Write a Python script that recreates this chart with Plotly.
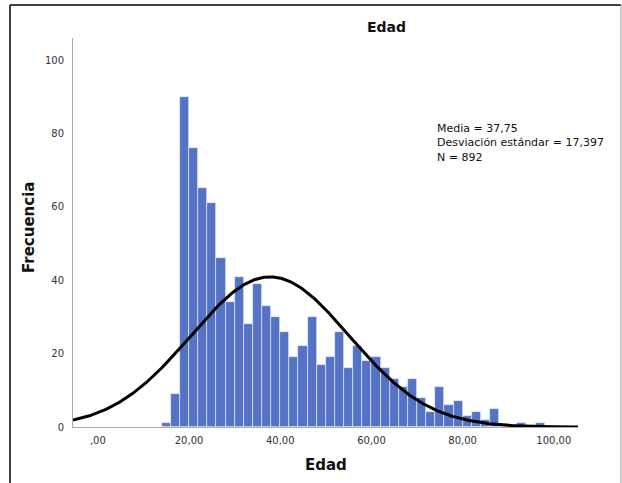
import numpy as np
import plotly.graph_objects as go

# ---- data ----
bin_start = [14, 16, 18, 20, 22, 24, 26, 28, 30, 32, 34, 36, 38, 40, 42, 44, 46, 48, 50,
             52, 54, 56, 58, 60, 62, 64, 66, 68, 70, 72, 74, 76, 78, 80, 82, 84, 86, 92, 96]
counts = [1, 9, 90, 76, 65, 61, 46, 34, 41, 28, 39, 33, 30, 26, 19, 22, 30, 17, 19,
          26, 16, 22, 18, 19, 16, 13, 11, 13, 8, 4, 11, 6, 7, 3, 4, 2, 5, 1, 1]
bin_width = 2
mean_age = 37.75
sd_age = 17.397
n_total = 892
x_ticks = [0, 20, 40, 60, 80, 100]
x_tick_text = [",00", "20,00", "40,00", "60,00", "80,00", "100,00"]
y_ticks = [0, 20, 40, 60, 80, 100]
stats_lines = ["Media = 37,75", "Desviación estándar = 17,397", "N = 892"]

W, H = 622, 483
L, R, T, B = 73, 578, 38, 427   # plot area in pixels
xr = [-5.45, 105.3]
yr = [0, 106]

def px(x):
    return (x - L) / (R - L)

def py(y):
    return (B - y) / (B - T)

fig = go.Figure()
centers = [s + bin_width / 2 for s in bin_start]
fig.add_trace(go.Bar(
    x=centers, y=counts, width=bin_width,
    marker=dict(color="#5573c4", line=dict(color="rgba(235,240,255,0.9)", width=0.7)),
    hoverinfo="skip",
))

xs = np.linspace(xr[0], xr[1], 400)
ys = n_total * bin_width / (sd_age * np.sqrt(2 * np.pi)) * np.exp(-0.5 * ((xs - mean_age) / sd_age) ** 2)
fig.add_trace(go.Scatter(x=xs, y=ys, mode="lines", line=dict(color="black", width=3), hoverinfo="skip"))

font_main = "DejaVu Sans, Verdana, sans-serif"

fig.update_layout(
    width=W, height=H,
    margin=dict(l=L, r=W - R, t=T, b=H - B, pad=0),
    paper_bgcolor="white", plot_bgcolor="white",
    showlegend=False, bargap=0,
    font=dict(family=font_main, color="#222"),
    xaxis=dict(range=xr, tickvals=x_ticks, ticktext=x_tick_text, showgrid=False, zeroline=False,
               showline=True, linecolor="#aaaaaa", linewidth=1, ticks="",
               tickfont=dict(size=10, color="#333"), ticklabelstandoff=4),
    yaxis=dict(range=yr, tickvals=y_ticks, showgrid=False, zeroline=False,
               showline=True, linecolor="#aaaaaa", linewidth=1, ticks="",
               tickfont=dict(size=10, color="#333"), ticklabelstandoff=6),
)

ann = []
ann.append(dict(text="<b>Edad</b>", x=px(386), y=py(27), xref="paper", yref="paper",
                showarrow=False, font=dict(size=14, color="#111"), xanchor="center", yanchor="middle"))
ann.append(dict(text="<b>Edad</b>", x=px(326), y=py(465), xref="paper", yref="paper",
                showarrow=False, font=dict(size=15, color="#111"), xanchor="center", yanchor="middle"))
ann.append(dict(text="<b>Frecuencia</b>", x=px(29), y=py(228), xref="paper", yref="paper", textangle=-90,
                showarrow=False, font=dict(size=15, color="#111"), xanchor="center", yanchor="middle"))
ann.append(dict(text="<br>".join(stats_lines), x=px(435), y=py(142.5), xref="paper", yref="paper",
                showarrow=False, align="left", font=dict(size=11, color="#111"),
                xanchor="left", yanchor="middle"))
fig.update_layout(annotations=ann)

# outer frame
fig.add_shape(type="line", xref="paper", yref="paper", x0=px(10), x1=px(621), y0=py(5), y1=py(5),
              line=dict(color="black", width=1.5))
fig.add_shape(type="line", xref="paper", yref="paper", x0=px(10), x1=px(10), y0=py(5), y1=py(490),
              line=dict(color="black", width=1.5))
fig.add_shape(type="line", xref="paper", yref="paper", x0=px(621), x1=px(621), y0=py(5), y1=py(490),
              line=dict(color="#999999", width=1))

fig.write_html("out.html", config={"displayModeBar": False},
               post_script="document.body.style.margin='0';document.body.style.overflow='hidden';")
